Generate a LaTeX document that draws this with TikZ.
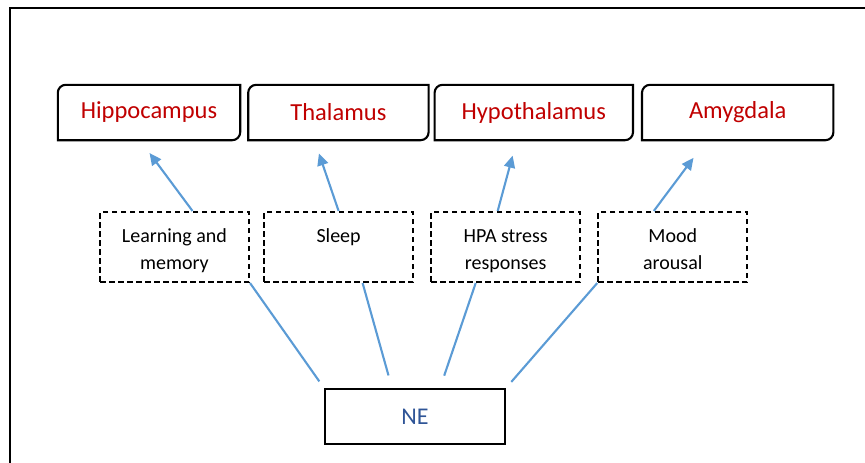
\documentclass[tikz,border=0pt]{standalone}
\usepackage{fontspec}
\setmainfont{Carlito}
\usepackage{xcolor}
\usetikzlibrary{positioning, arrows.meta}

\definecolor{organred}{HTML}{C00000}
\definecolor{neblue}{HTML}{2F5597}
\definecolor{linkblue}{HTML}{5B9BD5}

\newcommand{\firstline}{\rule{0pt}{27pt}}

\begin{document}
\begin{tikzpicture}[
    x=1pt, y=-1pt,
    organ/.style={
        rectangle, draw=none, inner sep=0pt,
        minimum height=55pt, text=organred,
        font=\fontsize{24.5}{29}\selectfont
    },
    role/.style={
        rectangle, draw=black, line width=2.1pt, dash pattern=on 5.5pt off 3.5pt,
        minimum width=149pt, minimum height=70pt, inner sep=0pt,
        align=center, font=\fontsize{20}{27}\selectfont
    },
    source/.style={
        rectangle, draw=black, line width=2.1pt,
        minimum width=180pt, minimum height=55pt, text=neblue,
        font=\fontsize{24}{29}\selectfont
    },
    arrow/.style={-{Triangle[length=12pt, width=11pt]}, draw=linkblue, line width=2.1pt},
    link/.style={draw=linkblue, line width=2.1pt}
]
\useasboundingbox (0,0) rectangle (865,463);

% frame
\draw[line width=1.6pt] (10,8) rectangle (880,480);

% Top: brain regions
\node[organ, minimum width=182pt] (hip) at (149,112.5) {Hippocampus};
\node[organ, minimum width=180pt, right=8pt of hip] (thal) {Thalamus};
\node[organ, minimum width=198pt, right=6pt of thal] (hypo) {Hypothalamus};
\node[organ, minimum width=191pt, right=9pt of hypo] (amyg) {Amygdala};

\foreach \n in {hip, thal, hypo, amyg}{
    \draw[line width=2.1pt] (\n.south west) -- ([yshift=-8pt]\n.north west)
        arc[start angle=180, end angle=90, radius=8pt] -- (\n.north east)
        -- ([yshift=8pt]\n.south east) arc[start angle=0, end angle=-90, radius=8pt] -- cycle;
}

% Middle: functions
\node[role] (learn) at (174.5,247) {\firstline Learning and\\memory\strut};
\node[role, right=13pt of learn] (sleep) {\firstline Sleep\\\strut};
\node[role, right=16pt of sleep] (hpa) {\firstline HPA stress\\responses\strut};
\node[role, right=16pt of hpa] (mood) {\firstline Mood\\arousal\strut};

% Bottom: source
\node[source] (ne) at (415,416.5) {NE};

\draw[arrow, shorten >=16pt] ([xshift=18pt]learn.north) -- ([xshift=-9pt]hip.south);
\draw[arrow, shorten >=14pt] (sleep.north) -- ([xshift=-24pt]thal.south);
\draw[arrow, shorten >=16pt] ([xshift=-8pt]hpa.north) -- ([xshift=-17pt]hypo.south);
\draw[arrow, shorten >=22pt] ([xshift=-19pt]mood.north) -- ([xshift=-31pt]amyg.south);

\draw[link, shorten >=8pt] (learn.south east) -- (ne.north west);
\draw[link, shorten >=13pt] ([xshift=24pt]sleep.south) -- ([xshift=-23pt]ne.north);
\draw[link, shorten >=13pt] ([xshift=-30pt]hpa.south) -- ([xshift=25pt]ne.north);
\draw[link, shorten >=8pt] (mood.south west) -- (ne.north east);

\end{tikzpicture}
\end{document}
